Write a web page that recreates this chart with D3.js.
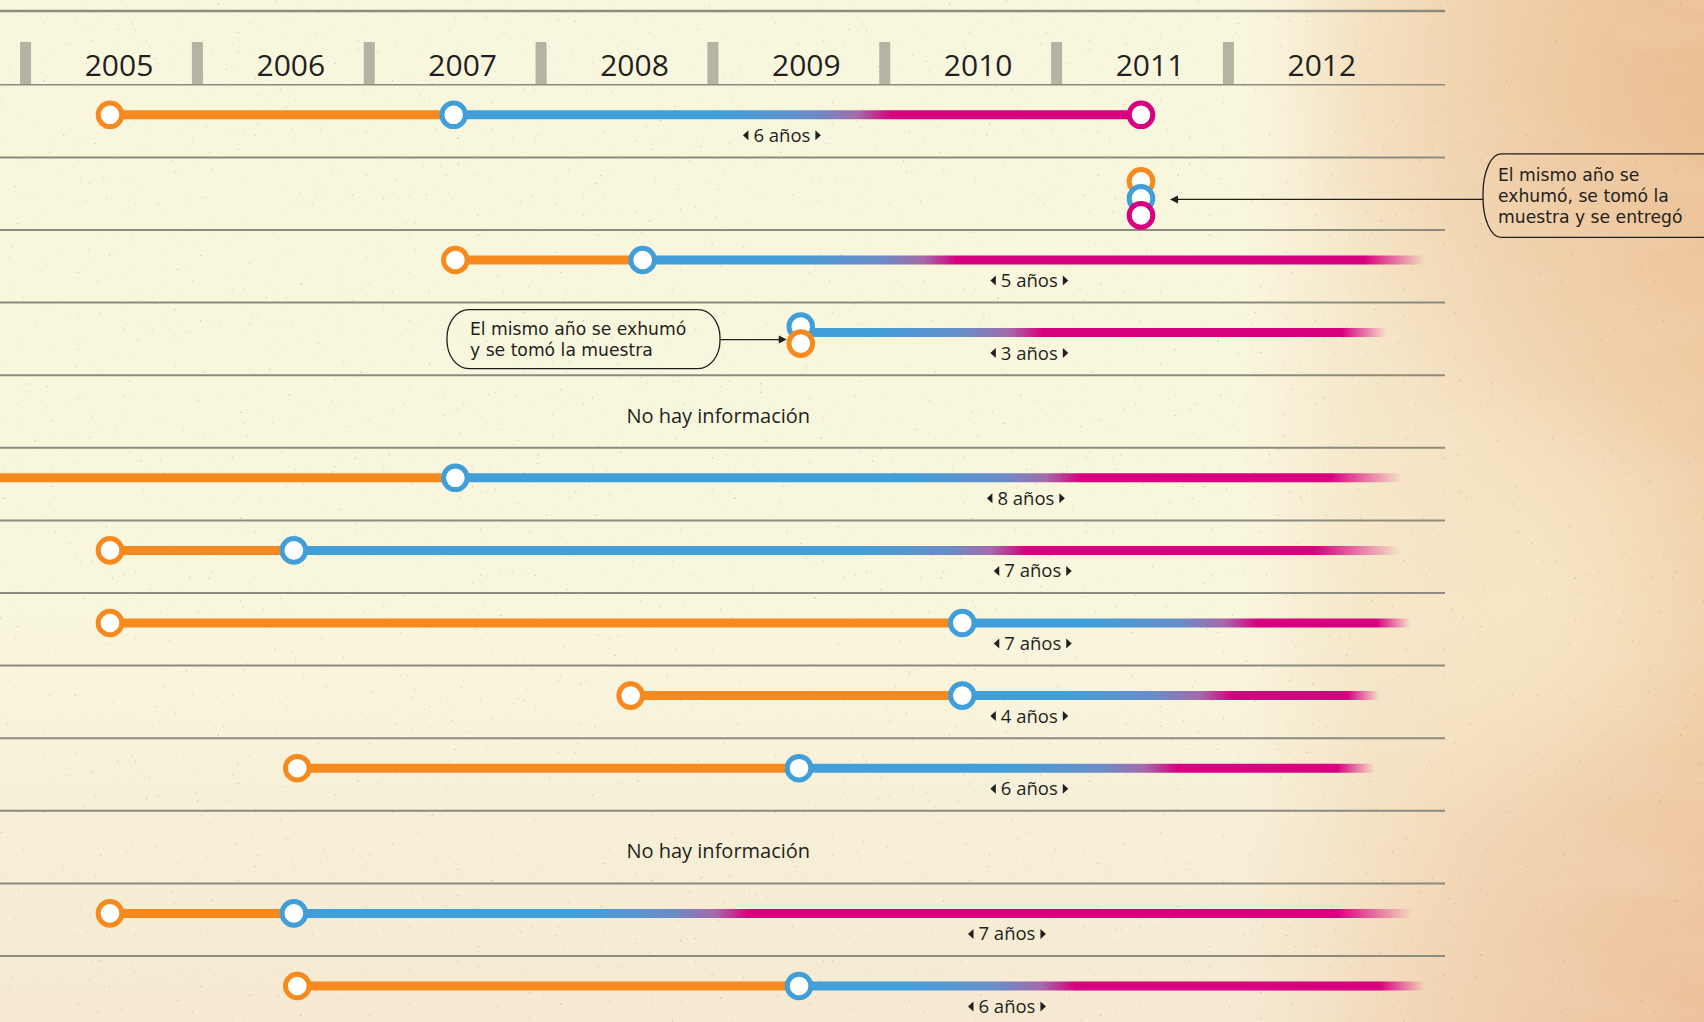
<!DOCTYPE html>
<html>
<head>
<meta charset="utf-8">
<script src="https://cdn.jsdelivr.net/npm/d3@7"></script>
<style>
  body { margin: 0; background: #f9f6de; overflow: hidden; }
  svg { display: block; }
  text { font-family: "Open Sans", sans-serif; fill: #231f20; }
  .note text { font-family: "DejaVu Sans", sans-serif; }
</style>
</head>
<body>
<div id="chart"></div>
<script>
// year columns in the header
const years = [2005, 2006, 2007, 2008, 2009, 2010, 2011, 2012];

// one entry per case (row, top to bottom), years
const exhumed   = [2005, 2011, 2007.01, 2009.02, null, 2004, 2005, 2005, 2008.03, 2006.09, null, 2005, 2006.09];
const sampled   = [2007, 2011, 2008.1, 2009.02, null, 2007.01, 2006.07, 2009.96, 2009.96, 2009.01, null, 2006.07, 2009.01];
const delivered = [2011, 2011, null, null, null, null, null, null, null, null, null, null, null];
const waitLabels = ["6 años", null, "5 años", "3 años", null, "8 años", "7 años", "7 años", "4 años", "6 años", null, "7 años", "6 años"];
const waitLabelAt = [2008.91, null, 2010.35, 2010.35, null, 2010.33, 2010.37, 2010.37, 2010.35, 2010.35, null, 2010.22, 2010.22];
// where the waiting bar turns magenta, where the magenta stops and where it has faded out
const magentaFrom = [2009.55, null, 2009.93, 2010.43, null, 2010.65, 2010.33, 2011.68, 2011.54, 2011.22, null, 2008.72, 2010.62];
const magentaTo   = [2011, null, 2012.30, 2012.17, null, 2012.10, 2012.01, 2012.37, 2012.20, 2012.14, null, 2012.14, 2012.39];
const fadeTo      = [2011, null, 2012.65, 2012.43, null, 2012.52, 2012.51, 2012.57, 2012.39, 2012.36, null, 2012.58, 2012.65];

const noInfo = "No hay información";
const noteAll = ["El mismo año se", "exhumó, se tomó la", "muestra y se entregó"];
const noteTwo = ["El mismo año se exhumó", "y se tomó la muestra"];

const W = 1704, H = 1022;
const ORANGE = "#f68a1f", BLUE = "#409fd9", MAGENTA = "#d7007f", RULE = "#8c8b7f", INK = "#231f20";

const svg = d3.select("#chart").append("svg").attr("width", W).attr("height", H);
const defs = svg.append("defs");

// ---- paper background
const warm = defs.append("linearGradient").attr("id", "warm");
[[0, 0], [0.73, 0], [0.8, 0.3], [0.9, 0.55], [1, 0.8]]
  .forEach(([o, a]) => warm.append("stop").attr("offset", o).attr("stop-color", "#efc79d").attr("stop-opacity", a));
const lowPink = defs.append("linearGradient").attr("id", "lowPink").attr("x1", 0).attr("x2", 0).attr("y1", 0).attr("y2", 1);
[[0, 0], [0.6, 0], [1, 0.5]].forEach(([o, a]) => lowPink.append("stop").attr("offset", o).attr("stop-color", "#f2dcc4").attr("stop-opacity", a));
function spot(id, cx, cy, r, color, a) {
  const s = defs.append("radialGradient").attr("id", id).attr("gradientUnits", "userSpaceOnUse")
    .attr("cx", cx).attr("cy", cy).attr("r", r);
  s.append("stop").attr("offset", 0).attr("stop-color", color).attr("stop-opacity", a);
  s.append("stop").attr("offset", 1).attr("stop-color", color).attr("stop-opacity", 0);
}
spot("topRight", W, 80, 420, "#e9b98c", 0.75);
spot("lowRight", W, H, 380, "#eab995", 0.6);
spot("midLight", 1520, 600, 230, "#f8ebc9", 0.7);

const blotch = defs.append("filter").attr("id", "blotch").attr("x", 0).attr("y", 0).attr("width", 1).attr("height", 1);
blotch.append("feTurbulence").attr("type", "fractalNoise").attr("baseFrequency", "0.006 0.02").attr("numOctaves", 3).attr("seed", 7);
blotch.append("feColorMatrix").attr("type", "matrix")
  .attr("values", "0 0 0 0 0.90  0 0 0 0 0.68  0 0 0 0 0.50  0 0 0 1.4 -0.6");
const grain = defs.append("filter").attr("id", "grain").attr("x", 0).attr("y", 0).attr("width", 1).attr("height", 1);
grain.append("feTurbulence").attr("type", "fractalNoise").attr("baseFrequency", 0.35).attr("numOctaves", 1).attr("seed", 11);
grain.append("feColorMatrix").attr("type", "matrix")
  .attr("values", "0 0 0 0 0.42  0 0 0 0 0.30  0 0 0 0 0.22  0 0 0 14 -10.2");
const rightMask = defs.append("mask").attr("id", "rightMask");
const rmg = defs.append("linearGradient").attr("id", "rmg");
rmg.append("stop").attr("offset", 0.74).attr("stop-color", "#fff").attr("stop-opacity", 0);
rmg.append("stop").attr("offset", 0.92).attr("stop-color", "#fff").attr("stop-opacity", 1);
rightMask.append("rect").attr("width", W).attr("height", H).attr("fill", "url(#rmg)");

const bg = svg.append("g");
const layer = () => bg.append("rect").attr("width", W).attr("height", H);
layer().attr("fill", "#f9f6de");
layer().attr("fill", "url(#lowPink)");
layer().attr("fill", "url(#warm)");
layer().attr("fill", "url(#topRight)");
layer().attr("fill", "url(#lowRight)");
layer().attr("filter", "url(#blotch)").attr("mask", "url(#rightMask)").attr("opacity", 0.5);
layer().attr("fill", "url(#midLight)");
layer().attr("filter", "url(#grain)").attr("opacity", 0.35);

// ---- scales
const x = d3.scaleLinear().domain([2005, 2011]).range([110, 1141]);
const rows = d3.range(exhumed.length);
const y = d3.scaleBand().domain(rows).range([84.8, 84.8 + rows.length * 72.6]);
const ruleEnd = 1445;

// ---- header
svg.append("line").attr("x1", 0).attr("x2", ruleEnd).attr("y1", 11).attr("y2", 11)
  .attr("stroke", RULE).attr("stroke-width", 2.6);
svg.append("g").selectAll("rect").data(years).join("rect")
  .attr("x", d => x(d - 0.5) - 4).attr("width", 11)
  .attr("y", 42).attr("height", y(0) - 42)
  .attr("fill", "#b4b4a4");
svg.append("g").selectAll("text").data(years).join("text")
  .attr("x", d => x(d) + 9).attr("y", 76)
  .attr("text-anchor", "middle").attr("font-size", 30)
  .text(d => d);

// row rules
svg.append("g").selectAll("line").data(rows).join("line")
  .attr("x1", 0).attr("x2", ruleEnd)
  .attr("y1", d => y(d)).attr("y2", d => y(d))
  .attr("stroke", RULE).attr("stroke-width", d => d === 0 ? 1.6 : 2);

// ---- rows
const lineY = i => y(i) + 30;
const stackY = (i, k) => lineY(i) - 6 + k * 17;

function circle(g, cx, cy, color) {
  g.append("circle").attr("cx", cx).attr("cy", cy).attr("r", 11.8)
    .attr("fill", "#fff").attr("stroke", color).attr("stroke-width", 5);
}

rows.forEach(i => {
  const g = svg.append("g");
  if (exhumed[i] == null) {
    g.append("text").attr("x", x(2008.54)).attr("y", y(i) + 47.5)
      .attr("text-anchor", "middle").attr("font-size", 20).text(noInfo);
    return;
  }
  const ly = lineY(i);
  const xs = x(sampled[i]);
  // orange: exhumation -> sample
  if (sampled[i] > exhumed[i]) {
    g.append("line").attr("x1", x(exhumed[i])).attr("x2", xs).attr("y1", ly).attr("y2", ly)
      .attr("stroke", ORANGE).attr("stroke-width", 9);
  }
  // blue -> magenta: sample -> delivery (or still waiting)
  const endYear = delivered[i] != null ? delivered[i] : fadeTo[i];
  if (endYear > sampled[i]) {
    const xe = x(endYear);
    const off = t => Math.max(0, Math.min(1, (x(t) - xs) / (xe - xs)));
    const gid = "bar" + i;
    const gr = defs.append("linearGradient").attr("id", gid)
      .attr("gradientUnits", "userSpaceOnUse").attr("x1", xs).attr("x2", xe).attr("y1", 0).attr("y2", 0);
    const m = magentaFrom[i];
    [[sampled[i], BLUE, 1], [Math.max(sampled[i], m - 1.0), BLUE, 1], [m - 0.45, "#6a8cc8", 1],
     [m - 0.2, "#a46aa9", 1], [m, MAGENTA, 1], [magentaTo[i], MAGENTA, 1], [fadeTo[i], MAGENTA, 0]]
      .forEach(([t, c, a]) => gr.append("stop").attr("offset", off(t)).attr("stop-color", c).attr("stop-opacity", a));
    g.append("line").attr("x1", xs).attr("x2", xe).attr("y1", ly).attr("y2", ly)
      .attr("stroke", `url(#${gid})`).attr("stroke-width", 9);
  }
  // circles
  if (delivered[i] != null && delivered[i] === exhumed[i]) {
    [ORANGE, BLUE, MAGENTA].forEach((c, k) => circle(g, x(delivered[i]), stackY(i, k), c));
  } else if (sampled[i] === exhumed[i]) {
    circle(g, xs, stackY(i, 0), BLUE);
    circle(g, xs, stackY(i, 1), ORANGE);
  } else {
    circle(g, x(exhumed[i]), ly, ORANGE);
    circle(g, xs, ly, BLUE);
    if (delivered[i] != null) circle(g, x(delivered[i]), ly, MAGENTA);
  }
  // waiting time label with little arrowheads
  if (waitLabels[i]) {
    const cx = x(waitLabelAt[i]), by = y(i) + 57;
    const t = g.append("text").attr("x", cx).attr("y", by).attr("text-anchor", "middle")
      .attr("font-size", 18.5).text(waitLabels[i]);
    const w = t.node().getComputedTextLength();
    const ty = by - 6.5;
    const l = cx - w / 2 - 5, r = cx + w / 2 + 5;
    g.append("path").attr("d", `M${l},${ty - 5}L${l},${ty + 5}L${l - 5.5},${ty}Z`).attr("fill", INK);
    g.append("path").attr("d", `M${r},${ty - 5}L${r},${ty + 5}L${r + 5.5},${ty}Z`).attr("fill", INK);
  }
});

// ---- callouts
function arrow(x1, x2, ay) {
  const dir = Math.sign(x2 - x1);
  svg.append("line").attr("x1", x1).attr("x2", x2 - dir * 6).attr("y1", ay).attr("y2", ay)
    .attr("stroke", INK).attr("stroke-width", 1.2);
  svg.append("path").attr("d", `M${x2},${ay}L${x2 - dir * 8},${ay - 4}L${x2 - dir * 8},${ay + 4}Z`).attr("fill", INK);
}
function note(bx, by, bw, bh, rx, ry, lines, tx, ty0, lh, fs) {
  svg.append("rect").attr("x", bx).attr("y", by).attr("width", bw).attr("height", bh)
    .attr("rx", rx).attr("ry", ry).attr("fill", "none").attr("stroke", INK).attr("stroke-width", 1.3);
  const g = svg.append("g").attr("class", "note").attr("font-size", fs);
  lines.forEach((d, k) => g.append("text").attr("x", tx).attr("y", ty0 + k * lh).text(d));
}
// row 2: all three in the same year
const a1 = (stackY(1, 0) + stackY(1, 2)) / 2 + 1;
arrow(1483, x(2011) + 29, a1);
note(1483, a1 - 45.5, 260, 83.5, 18, 40, noteAll, 1498, a1 - 18, 20.6, 17.2);
// row 4: exhumed and sampled in the same year
const a2 = lineY(3) + 7;
arrow(720, x(sampled[3]) - 14, a2);
note(447, a2 - 30, 273, 59, 22, 28, noteTwo, 470, a2 - 5, 21, 17.2);
</script>
</body>
</html>
